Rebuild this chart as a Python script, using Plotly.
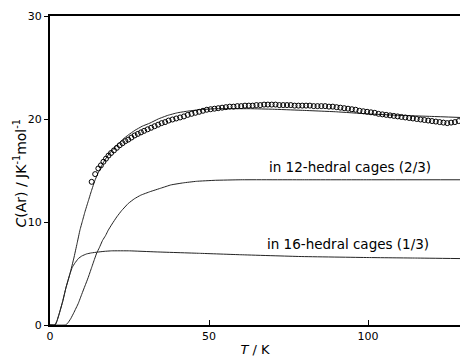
import plotly.graph_objects as go

# Measured heat capacity of Ar (open circles)
t_obs = [13.1, 14.2, 15.2, 16.0, 16.8, 17.6, 18.4, 19.2, 20.1, 21.0, 21.9, 22.8, 23.7, 24.6,
         25.6, 26.6, 27.6, 28.6, 29.6, 30.7, 31.8, 32.9, 34.0, 35.1, 36.2, 37.3, 38.5, 39.7,
         40.9, 42.1, 43.3, 44.5, 45.7, 46.9, 48.1, 49.3, 50.5, 51.7, 52.9, 54.1, 55.3, 56.5,
         57.7, 58.9, 60.1, 61.3, 62.5, 63.7, 64.9, 66.1, 67.3, 68.5, 69.7, 70.9, 72.1, 73.3,
         74.5, 75.7, 76.9, 78.1, 79.3, 80.5, 81.7, 82.9, 84.1, 85.3, 86.5, 87.7, 88.9, 90.1,
         91.3, 92.5, 93.7, 94.9, 96.1, 97.3, 98.5, 99.7, 100.9, 102.1, 103.3, 104.5, 105.7,
         106.9, 108.1, 109.3, 110.5, 111.7, 112.9, 114.1, 115.3, 116.5, 117.7, 118.9, 120.1,
         121.3, 122.5, 123.7, 124.9, 126.1, 127.3, 128.5]
c_obs = [13.9, 14.65, 15.2, 15.5, 15.85, 16.15, 16.45, 16.7, 16.95, 17.2, 17.45, 17.65, 17.85, 18.0,
         18.2, 18.4, 18.55, 18.7, 18.85, 19.0, 19.15, 19.3, 19.45, 19.6, 19.7, 19.85, 19.95, 20.05,
         20.15, 20.25, 20.4, 20.5, 20.6, 20.7, 20.8, 20.9, 20.95, 21.0, 21.05, 21.1, 21.15, 21.2,
         21.2, 21.25, 21.25, 21.3, 21.3, 21.3, 21.35, 21.35, 21.4, 21.4, 21.4, 21.4, 21.35, 21.35,
         21.35, 21.35, 21.3, 21.3, 21.3, 21.3, 21.3, 21.25, 21.25, 21.25, 21.25, 21.2, 21.2, 21.15,
         21.1, 21.05, 21.0, 20.95, 20.9, 20.8, 20.75, 20.7, 20.65, 20.6, 20.5, 20.45, 20.4,
         20.35, 20.3, 20.25, 20.2, 20.15, 20.1, 20.05, 20.0, 19.95, 19.9, 19.85, 19.8,
         19.75, 19.7, 19.65, 19.6, 19.65, 19.7, 19.8]

# Calculated total heat capacity
t_total = [0, 1.6, 2.2, 3.0, 4.0, 5.0, 6.3, 7.5, 8.5, 9.4, 10.2, 11.0, 12.0, 13.0, 14.2,
           15.5, 17.0, 18.5, 20.0, 21.5, 23.0, 24.6, 26.7, 29.0, 31.4, 34.0, 37.0, 40.0,
           43.0, 47.0, 52.0, 57.0, 63.0, 70.0, 78.6, 90.0, 99.6, 110.0, 120.0, 128.9]
c_total = [0, 0, 0.4, 1.2, 2.3, 3.6, 5.0, 6.5, 7.9, 9.2, 10.1, 11.0, 12.0, 13.0, 14.1,
           15.0, 15.9, 16.6, 17.1, 17.6, 18.05, 18.45, 18.9, 19.3, 19.6, 20.0, 20.35, 20.6,
           20.75, 20.9, 21.0, 21.0, 21.0, 20.95, 20.85, 20.7, 20.5, 20.35, 20.25, 20.15]

# Contribution from Ar in 12-hedral cages (2/3)
t_12 = [0, 4.8, 5.5, 6.5, 7.5, 8.9, 10.0, 11.0, 12.0, 13.0, 14.0, 14.7, 15.5, 16.5,
        17.5, 18.3, 19.5, 21.0, 22.5, 24.6, 26.5, 28.5, 31.5, 35.0, 38.0, 41.9, 46.0,
        52.0, 60.0, 80.0, 100.0, 128.9]
c_12 = [0, 0, 0.15, 0.6, 1.2, 2.1, 3.0, 3.8, 4.6, 5.5, 6.4, 7.0, 7.5, 8.2,
        8.7, 9.2, 9.8, 10.5, 11.1, 11.8, 12.25, 12.6, 12.95, 13.3, 13.6, 13.8, 13.95,
        14.05, 14.1, 14.1, 14.1, 14.1]

# Contribution from Ar in 16-hedral cages (1/3)
t_16 = [0, 1.6, 2.2, 3.0, 4.0, 5.0, 6.3, 7.0, 7.8, 8.9, 10.0, 11.5, 13.0, 15.0, 17.0,
        19.4, 25.0, 33.0, 47.0, 60.0, 78.6, 100.0, 115.0, 128.9]
c_16 = [0, 0, 0.4, 1.2, 2.3, 3.6, 5.0, 5.6, 6.0, 6.45, 6.7, 6.9, 7.0, 7.08, 7.15,
        7.2, 7.2, 7.1, 6.96, 6.82, 6.65, 6.55, 6.5, 6.45]

LINE = "#222222"
FONT = "DejaVu Sans"

fig = go.Figure()
for tx, cy in [(t_total, c_total), (t_12, c_12), (t_16, c_16)]:
    fig.add_trace(go.Scatter(x=tx, y=cy, mode="lines",
                             line=dict(color=LINE, width=1, shape="spline", smoothing=0.3),
                             hoverinfo="skip", showlegend=False))

fig.add_trace(go.Scatter(x=t_obs, y=c_obs, mode="markers",
                         marker=dict(symbol="circle-open", size=5, color="black",
                                     line=dict(width=1, color="black")),
                         showlegend=False))

fig.add_annotation(x=94.2, y=15.3, text="in 12-hedral cages (2/3)", showarrow=False,
                   font=dict(family=FONT, size=13.5, color="black"))
fig.add_annotation(x=93.8, y=7.85, text="in 16-hedral cages (1/3)", showarrow=False,
                   font=dict(family=FONT, size=13.5, color="black"))

# vertical axis title placed by hand
fig.add_annotation(xref="paper", yref="paper", x=0, y=0.49, xanchor="center",
                   yanchor="middle", xshift=-30, textangle=-90, showarrow=False,
                   text="<i>C</i>(Ar) / JK<sup>-1</sup>mol<sup>-1</sup>",
                   font=dict(family=FONT, size=14, color="black"))

fig.update_layout(
    width=460, height=357,
    margin=dict(l=50, r=0, t=16, b=32, autoexpand=False),
    paper_bgcolor="white", plot_bgcolor="white",
    font=dict(family=FONT, color="black", size=11),
    xaxis=dict(range=[0, 128.9], tickvals=[0, 50, 100], ticks="inside", ticklen=5,
               tickwidth=1, tickcolor="black", showline=True, linecolor="black",
               linewidth=1.5, mirror=True, showgrid=False, zeroline=False,
               title=dict(text="<i>T</i> / K", font=dict(size=13), standoff=4),
               automargin=False),
    yaxis=dict(range=[0, 30], tickvals=[0, 10, 20, 30], ticks="outside", ticklen=4,
               tickwidth=1, tickcolor="black", showline=True, linecolor="black",
               linewidth=2, mirror=False, showgrid=False, zeroline=False,
               automargin=False),
)

fig.write_html("out.html")
